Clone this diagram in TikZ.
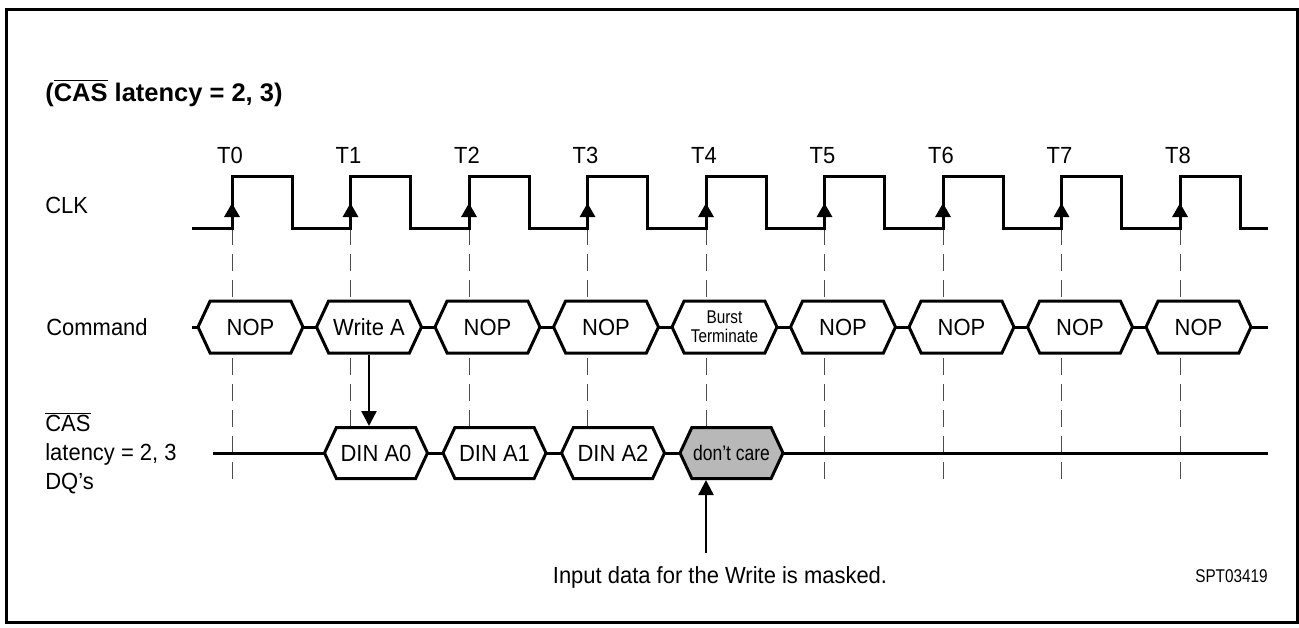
\documentclass[tikz,border=0pt]{standalone}
\usepackage{fontspec}
\setmainfont{Liberation Sans}
\newfontfamily\narrowsans[FakeStretch=0.94]{Liberation Sans}
\newfontfamily\tightsans[FakeStretch=0.83]{Liberation Sans}
\usetikzlibrary{shapes}
\usetikzlibrary{arrows.meta}
\definecolor{maskgray}{gray}{0.72}
\definecolor{tickgray}{gray}{0.3}
\newcommand{\ovl}[1]{\ensuremath{\overline{\mbox{#1}}}}
\tikzset{sig/.style={line width=0.6mm}}
\tikzset{tick/.style={draw=tickgray, line width=0.2mm, dash pattern=on 3.4mm off 1.8mm}}
\tikzset{lbl/.style={inner sep=0pt, font=\narrowsans\fontsize{13.3}{16}\selectfont}}
\tikzset{tlbl/.style={lbl, anchor=base}}
\tikzset{cmdbox/.style={draw, line width=0.6mm, fill=white, signal, signal to=east and west, signal pointer angle=130, minimum width=21mm, minimum height=10.4mm, inner sep=0pt, font=\narrowsans\fontsize{13.3}{16}\selectfont}}
\tikzset{dqbox/.style={cmdbox, minimum width=20.6mm, minimum height=10.2mm}}
\tikzset{maskbox/.style={dqbox, fill=maskgray, font=\tightsans\fontsize{12}{14}\selectfont}}
\tikzset{pointer/.style={line width=0.5mm, -{Triangle[width=3mm,length=3mm]}}}
\tikzset{clkmark/.style={line width=0.6mm, -{Triangle[width=3mm,length=2.8mm]}}}

\begin{document}
\begin{tikzpicture}[x=0.2mm, y=-0.2mm]
\useasboundingbox (0,0) rectangle (1299,627);
\draw[line width=0.6mm] (6,9) rectangle (1297,622);

\node[lbl, anchor=west, font=\bfseries\fontsize{14.5}{17}\selectfont] (title) at (45,93) {(\ovl{CAS} latency = 2, 3)};

% rising clock edges
\coordinate (t0) at (232,228);
\coordinate (t1) at (350.5,228);
\coordinate (t2) at (469,228);
\coordinate (t3) at (587.5,228);
\coordinate (t4) at (706,228);
\coordinate (t5) at (824.5,228);
\coordinate (t6) at (943,228);
\coordinate (t7) at (1061.5,228);
\coordinate (t8) at (1180,228);
\coordinate (ticklow) at (0,480);

\node[tlbl] (l0) at (230,163) {T0};
\node[tlbl] (l1) at (348.5,163) {T1};
\node[tlbl] (l2) at (467,163) {T2};
\node[tlbl] (l3) at (585.5,163) {T3};
\node[tlbl] (l4) at (704,163) {T4};
\node[tlbl] (l5) at (822.5,163) {T5};
\node[tlbl] (l6) at (941,163) {T6};
\node[tlbl] (l7) at (1059.5,163) {T7};
\node[tlbl] (l8) at (1178,163) {T8};

\node[lbl, anchor=west] (clk) at (45,205) {CLK};
\node[lbl, anchor=west] (cmd) at (46,327) {Command};
\node[lbl, anchor=west, align=left, font=\narrowsans\fontsize{13.3}{16.5}\selectfont] (dq) at (45,453) {\ovl{CAS}\\latency = 2, 3\\DQ’s};

% timing lines
\draw[tick] (t0) -- (t0 |- ticklow);
\draw[tick] (t1) -- (t1 |- ticklow);
\draw[tick] (t2) -- (t2 |- ticklow);
\draw[tick] (t3) -- (t3 |- ticklow);
\draw[tick] (t4) -- (t4 |- ticklow);
\draw[tick] (t5) -- (t5 |- ticklow);
\draw[tick] (t6) -- (t6 |- ticklow);
\draw[tick] (t7) -- (t7 |- ticklow);
\draw[tick] (t8) -- (t8 |- ticklow);

% clock
\draw[sig] (192,228) -- (232,228) -- (232,176) -- (292,176) -- (292,228)
  -- (350.5,228) -- (350.5,176) -- (410.5,176) -- (410.5,228)
  -- (469,228) -- (469,176) -- (529,176) -- (529,228)
  -- (587.5,228) -- (587.5,176) -- (647.5,176) -- (647.5,228)
  -- (706,228) -- (706,176) -- (766,176) -- (766,228)
  -- (824.5,228) -- (824.5,176) -- (884.5,176) -- (884.5,228)
  -- (943,228) -- (943,176) -- (1003,176) -- (1003,228)
  -- (1061.5,228) -- (1061.5,176) -- (1121.5,176) -- (1121.5,228)
  -- (1180,228) -- (1180,176) -- (1240,176) -- (1240,228) -- (1268,228);
\draw[clkmark] (t0) -- ++(0,-25);
\draw[clkmark] (t1) -- ++(0,-25);
\draw[clkmark] (t2) -- ++(0,-25);
\draw[clkmark] (t3) -- ++(0,-25);
\draw[clkmark] (t4) -- ++(0,-25);
\draw[clkmark] (t5) -- ++(0,-25);
\draw[clkmark] (t6) -- ++(0,-25);
\draw[clkmark] (t7) -- ++(0,-25);
\draw[clkmark] (t8) -- ++(0,-25);

% buses
\draw[sig] (192,327) -- (1268,327);
\draw[sig] (213,453) -- (1268,453);

\node[cmdbox] (c0) at (250.5,327) {NOP};
\node[cmdbox] (c1) at (369,327) {Write A};
\node[cmdbox] (c2) at (487.5,327) {NOP};
\node[cmdbox] (c3) at (606,327) {NOP};
\node[cmdbox, align=center, font=\tightsans\fontsize{10.5}{10.8}\selectfont] (c4) at (724.5,327) {Burst\\Terminate};
\node[cmdbox] (c5) at (843,327) {NOP};
\node[cmdbox] (c6) at (961.5,327) {NOP};
\node[cmdbox] (c7) at (1080,327) {NOP};
\node[cmdbox] (c8) at (1198.5,327) {NOP};

\node[dqbox] (d1) at (376,453) {DIN A0};
\node[dqbox] (d2) at (494.5,453) {DIN A1};
\node[dqbox] (d3) at (613,453) {DIN A2};
\node[maskbox] (dc) at (731.5,453) {don’t care};

\draw[pointer] (c1.south) -- (c1.south |- d1.north);

\coordinate (masktail) at (706,553);
\draw[pointer] (masktail) -- (masktail |- dc.south);
\node[lbl] (note) at (720,577) {Input data for the Write is masked.};

\node[lbl, anchor=east, font=\tightsans\fontsize{10.5}{12}\selectfont] (fig) at (1268,576) {SPT03419};

\end{tikzpicture}
\end{document}
